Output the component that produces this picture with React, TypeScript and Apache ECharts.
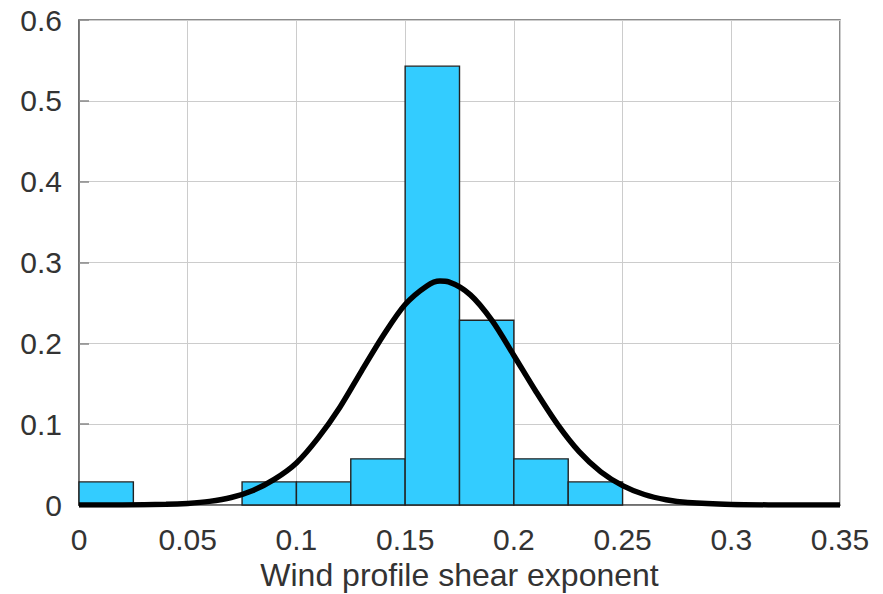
import React, { useEffect, useRef } from "react";
import * as echarts from "echarts";

// Histogram bins (start, end) and relative frequencies
const binStarts = [0, 0.025, 0.05, 0.075, 0.1, 0.125, 0.15, 0.175, 0.2, 0.225];
const binEnds = [0.025, 0.05, 0.075, 0.1, 0.125, 0.15, 0.175, 0.2, 0.225, 0.25];
const binValues = [0.0286, 0, 0, 0.0286, 0.0286, 0.0571, 0.5429, 0.2286, 0.0571, 0.0286];

// Fitted normal curve
const curveX = [0, 0.02, 0.04, 0.05, 0.06, 0.07, 0.08, 0.09, 0.1, 0.11, 0.12, 0.13, 0.14, 0.15, 0.16, 0.166, 0.17, 0.18, 0.19, 0.2, 0.21, 0.22, 0.23, 0.24, 0.25, 0.26, 0.27, 0.28, 0.3, 0.32, 0.35];
const curveY = [0, 0.0001, 0.0008, 0.002, 0.0045, 0.0093, 0.018, 0.032, 0.052, 0.083, 0.121, 0.166, 0.21, 0.248, 0.271, 0.277, 0.276, 0.26, 0.228, 0.185, 0.141, 0.1, 0.066, 0.041, 0.024, 0.013, 0.0065, 0.003, 0.0006, 0.0001, 0];

const xTicks = ["0", "0.05", "0.1", "0.15", "0.2", "0.25", "0.3", "0.35"];
const yTicks = ["0", "0.1", "0.2", "0.3", "0.4", "0.5", "0.6"];

const FONT = "'Liberation Sans', Arial, sans-serif";

export default function App() {
  const ref = useRef<HTMLDivElement>(null);
  useEffect(() => {
    if (!ref.current) return;
    const chart = echarts.init(ref.current, null, { renderer: "svg" });
    const barData = binStarts.map((s, i) => [s, binEnds[i], binValues[i]]);
    const lineData = curveX.map((x, i) => [x, curveY[i]]);
    chart.setOption({
      animation: false,
      backgroundColor: "#ffffff",
      grid: {
        left: 79,
        right: 43,
        top: 20,
        bottom: 89,
        containLabel: false,
        outerBoundsMode: "none",
        show: true,
        borderColor: "#666666",
        borderWidth: 1.5,
        backgroundColor: "transparent",
      },
      xAxis: {
        type: "value",
        min: 0,
        max: 0.35,
        interval: 0.05,
        name: "Wind profile shear exponent",
        nameLocation: "middle",
        nameGap: 51,
        nameTextStyle: { fontFamily: FONT, fontSize: 32, color: "#333333" },
        axisLine: { show: true, lineStyle: { color: "#666666", width: 1.5 } },
        axisTick: { show: false },
        axisLabel: {
          fontFamily: FONT,
          fontSize: 30,
          color: "#333333",
          margin: 19,
          formatter: (v: number) => xTicks[Math.round(v / 0.05)] ?? "",
        },
        splitLine: { show: true, lineStyle: { color: "#cccccc", width: 1 } },
      },
      yAxis: {
        type: "value",
        min: 0,
        max: 0.6,
        interval: 0.1,
        axisLine: { show: true, lineStyle: { color: "#666666", width: 1.5 } },
        axisTick: { show: true, inside: true, length: 10, lineStyle: { color: "#888888", width: 1.5 } },
        axisLabel: {
          fontFamily: FONT,
          fontSize: 30,
          color: "#333333",
          margin: 17,
          formatter: (v: number) => yTicks[Math.round(v / 0.1)] ?? "",
        },
        splitLine: { show: true, lineStyle: { color: "#cccccc", width: 1 } },
      },
      series: [
        {
          type: "custom",
          data: barData,
          encode: { x: [0, 1], y: 2 },
          renderItem: (params: any, api: any) => {
            const s = api.value(0);
            const e = api.value(1);
            const v = api.value(2);
            if (v <= 0) return null;
            const p0 = api.coord([s, v]);
            const p1 = api.coord([e, 0]);
            return {
              type: "rect",
              shape: { x: p0[0], y: p0[1], width: p1[0] - p0[0], height: p1[1] - p0[1] },
              style: { fill: "#33ccff", stroke: "#222222", lineWidth: 1.4 },
            };
          },
          z: 2,
        },
        {
          type: "line",
          data: lineData,
          smooth: 0.3,
          showSymbol: false,
          symbol: "none",
          lineStyle: { color: "#000000", width: 5.5 },
          z: 3,
        },
      ],
    });
    return () => chart.dispose();
  }, []);
  return (
    <div
      ref={ref}
      style={{ position: "fixed", left: 0, top: 0, width: 883, height: 594, background: "#fff" }}
    />
  );
}
